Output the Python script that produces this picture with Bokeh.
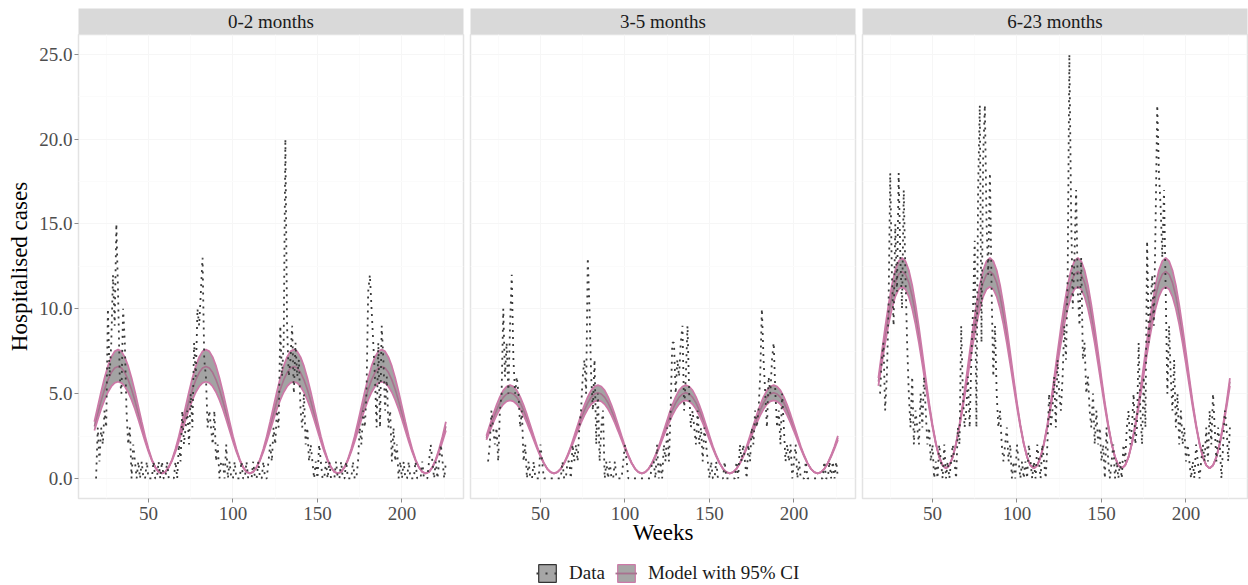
from bokeh.plotting import figure
from bokeh.layouts import row, column
from bokeh.models import Range1d, FixedTicker, PrintfTickFormatter, Legend, LegendItem
from bokeh.core.properties import value
from bokeh.embed import file_html
from bokeh.resources import INLINE

FONT = "Liberation Serif"

panel_titles = ["0-2 months", "3-5 months", "6-23 months"]
x_label = "Weeks"
y_label = "Hospitalised cases"
legend_labels = ["Data", "Model with 95% CI"]
x_ticks = [50, 100, 150, 200]
y_ticks = [0, 5, 10, 15, 20, 25]

# weekly observed hospitalisations, weeks 19..226
data_weeks = list(range(19, 227))
cases_0_2 = [
    0, 3, 1, 3, 2, 4, 3, 10, 6, 8,
    12, 9, 15, 11, 6, 5, 10, 8, 4, 2,
    3, 0, 2, 1, 0, 1, 0, 1, 0, 0,
    1, 0, 0, 0, 1, 0, 0, 1, 0, 1,
    0, 0, 1, 0, 0, 0, 0, 1, 0, 2,
    1, 4, 2, 3, 4, 2, 5, 3, 8, 6,
    10, 9, 11, 13, 7, 6, 3, 4, 3, 2,
    4, 1, 2, 0, 1, 1, 0, 2, 0, 1,
    0, 0, 1, 0, 0, 0, 1, 0, 0, 1,
    0, 0, 0, 1, 0, 0, 1, 0, 0, 1,
    0, 0, 1, 2, 1, 3, 2, 4, 3, 9,
    6, 8, 20, 9, 6, 7, 9, 5, 8, 6,
    7, 4, 3, 5, 2, 3, 1, 2, 1, 0,
    1, 0, 2, 1, 0, 0, 1, 0, 1, 0,
    0, 0, 1, 0, 0, 1, 0, 0, 1, 0,
    0, 0, 1, 0, 0, 1, 3, 2, 4, 3,
    5, 11, 12, 10, 8, 6, 3, 8, 3, 9,
    7, 4, 6, 3, 4, 1, 3, 1, 2, 0,
    1, 0, 1, 0, 0, 1, 0, 0, 0, 1,
    0, 0, 0, 1, 0, 0, 0, 1, 2, 1,
    0, 1, 0, 1, 2, 1, 0, 1,
]
cases_3_5 = [
    1, 2, 4, 3, 2, 3, 1, 4, 5, 10,
    6, 8, 5, 9, 12, 7, 5, 6, 5, 3,
    4, 1, 2, 0, 1, 0, 0, 1, 0, 0,
    0, 2, 1, 0, 0, 0, 0, 0, 0, 0,
    0, 0, 0, 0, 1, 0, 0, 1, 1, 0,
    2, 1, 2, 1, 3, 4, 6, 7, 5, 13,
    10, 6, 4, 7, 2, 5, 1, 3, 4, 0,
    1, 0, 1, 0, 0, 1, 0, 0, 0, 0,
    1, 2, 1, 0, 0, 0, 0, 0, 0, 0,
    0, 0, 0, 0, 0, 0, 0, 1, 1, 0,
    2, 0, 1, 0, 2, 1, 3, 1, 4, 8,
    8, 5, 7, 6, 8, 9, 4, 6, 9, 5,
    3, 4, 3, 2, 4, 2, 3, 1, 3, 2,
    1, 0, 1, 0, 0, 1, 0, 0, 0, 0,
    1, 0, 0, 0, 0, 0, 0, 1, 0, 2,
    1, 2, 1, 0, 2, 1, 3, 2, 4, 3,
    4, 6, 10, 7, 5, 3, 6, 5, 7, 8,
    5, 3, 4, 2, 5, 3, 1, 2, 1, 2,
    0, 1, 2, 0, 1, 0, 0, 0, 1, 0,
    0, 0, 0, 0, 0, 0, 0, 0, 0, 1,
    0, 0, 1, 0, 1, 0, 1, 0,
]
cases_6_23 = [
    5, 7, 8, 4, 6, 10, 18, 12, 9, 15,
    11, 18, 13, 10, 17, 12, 8, 5, 3, 6,
    2, 4, 3, 2, 5, 3, 6, 4, 2, 3,
    1, 2, 0, 1, 0, 2, 1, 0, 2, 0,
    1, 0, 1, 2, 1, 0, 3, 2, 9, 5,
    3, 4, 6, 3, 7, 10, 14, 3, 17, 22,
    8, 19, 22, 15, 12, 18, 11, 6, 9, 5,
    3, 4, 2, 1, 2, 3, 1, 2, 0, 1,
    0, 2, 1, 0, 1, 0, 1, 0, 2, 1,
    0, 1, 0, 2, 1, 0, 2, 1, 0, 2,
    5, 3, 4, 6, 3, 7, 5, 4, 6, 9,
    7, 12, 25, 16, 10, 13, 17, 11, 9, 13,
    7, 8, 5, 6, 4, 3, 5, 2, 4, 2,
    3, 1, 2, 0, 3, 1, 0, 1, 2, 0,
    1, 0, 1, 0, 2, 1, 3, 4, 2, 3,
    5, 2, 3, 8, 4, 2, 6, 3, 14, 8,
    10, 12, 9, 15, 22, 18, 16, 13, 17, 11,
    5, 9, 6, 4, 7, 3, 5, 2, 4, 2,
    3, 1, 2, 1, 0, 1, 0, 2, 1, 0,
    1, 2, 1, 3, 1, 4, 2, 5, 3, 1,
    3, 2, 0, 2, 4, 3, 1, 3,
]

# model fit (mean and 95% CI), read every 2 weeks, weeks 18..226
model_weeks = list(range(18, 227, 2))
model_mean_0_2 = [
    3.07, 3.83, 4.57, 5.24, 5.81, 6.24, 6.51, 6.60,
    6.51, 6.24, 5.81, 5.24, 4.57, 3.83, 3.07, 2.33, 1.66, 1.09, 0.66, 0.39, 0.30,
    0.39, 0.66, 1.09, 1.66, 2.33, 3.07, 3.83, 4.57, 5.24, 5.81, 6.24, 6.51, 6.60,
    6.51, 6.24, 5.81, 5.24, 4.57, 3.83, 3.07, 2.33, 1.66, 1.09, 0.66, 0.39, 0.30,
    0.39, 0.66, 1.09, 1.66, 2.33, 3.07, 3.83, 4.57, 5.24, 5.81, 6.24, 6.51, 6.60,
    6.51, 6.24, 5.81, 5.24, 4.57, 3.83, 3.07, 2.33, 1.66, 1.09, 0.66, 0.39, 0.30,
    0.39, 0.66, 1.09, 1.66, 2.33, 3.07, 3.83, 4.57, 5.24, 5.81, 6.24, 6.51, 6.60,
    6.51, 6.24, 5.81, 5.24, 4.57, 3.83, 3.07, 2.33, 1.66, 1.09, 0.66, 0.39, 0.30,
    0.39, 0.66, 1.09, 1.66, 2.33, 3.07,
]
model_hi_0_2 = [
    3.34, 4.23, 5.11, 5.92, 6.62, 7.15, 7.49, 7.60,
    7.49, 7.15, 6.62, 5.92, 5.11, 4.23, 3.34, 2.49, 1.75, 1.13, 0.67, 0.39, 0.30,
    0.39, 0.67, 1.13, 1.75, 2.49, 3.34, 4.23, 5.11, 5.92, 6.62, 7.15, 7.49, 7.60,
    7.49, 7.15, 6.62, 5.92, 5.11, 4.23, 3.34, 2.49, 1.75, 1.13, 0.67, 0.39, 0.30,
    0.39, 0.67, 1.13, 1.75, 2.49, 3.34, 4.23, 5.11, 5.92, 6.62, 7.15, 7.49, 7.60,
    7.49, 7.15, 6.62, 5.92, 5.11, 4.23, 3.34, 2.49, 1.75, 1.13, 0.67, 0.39, 0.30,
    0.39, 0.67, 1.13, 1.75, 2.49, 3.34, 4.23, 5.11, 5.92, 6.62, 7.15, 7.49, 7.60,
    7.49, 7.15, 6.62, 5.92, 5.11, 4.23, 3.34, 2.49, 1.75, 1.13, 0.67, 0.39, 0.30,
    0.39, 0.67, 1.13, 1.75, 2.49, 3.34,
]
model_lo_0_2 = [
    2.83, 3.47, 4.09, 4.63, 5.08, 5.42, 5.63, 5.70,
    5.63, 5.42, 5.08, 4.63, 4.09, 3.47, 2.83, 2.18, 1.58, 1.06, 0.65, 0.39, 0.30,
    0.39, 0.65, 1.06, 1.58, 2.18, 2.83, 3.47, 4.09, 4.63, 5.08, 5.42, 5.63, 5.70,
    5.63, 5.42, 5.08, 4.63, 4.09, 3.47, 2.83, 2.18, 1.58, 1.06, 0.65, 0.39, 0.30,
    0.39, 0.65, 1.06, 1.58, 2.18, 2.83, 3.47, 4.09, 4.63, 5.08, 5.42, 5.63, 5.70,
    5.63, 5.42, 5.08, 4.63, 4.09, 3.47, 2.83, 2.18, 1.58, 1.06, 0.65, 0.39, 0.30,
    0.39, 0.65, 1.06, 1.58, 2.18, 2.83, 3.47, 4.09, 4.63, 5.08, 5.42, 5.63, 5.70,
    5.63, 5.42, 5.08, 4.63, 4.09, 3.47, 2.83, 2.18, 1.58, 1.06, 0.65, 0.39, 0.30,
    0.39, 0.65, 1.06, 1.58, 2.18, 2.83,
]
model_mean_3_5 = [
    2.39, 2.96, 3.52, 4.02, 4.45, 4.78, 4.98, 5.05,
    4.98, 4.78, 4.45, 4.02, 3.52, 2.96, 2.39, 1.83, 1.33, 0.90, 0.57, 0.37, 0.30,
    0.37, 0.57, 0.90, 1.33, 1.83, 2.39, 2.96, 3.52, 4.02, 4.45, 4.78, 4.98, 5.05,
    4.98, 4.78, 4.45, 4.02, 3.52, 2.96, 2.39, 1.83, 1.33, 0.90, 0.57, 0.37, 0.30,
    0.37, 0.57, 0.90, 1.33, 1.83, 2.39, 2.96, 3.52, 4.02, 4.45, 4.78, 4.98, 5.05,
    4.98, 4.78, 4.45, 4.02, 3.52, 2.96, 2.39, 1.83, 1.33, 0.90, 0.57, 0.37, 0.30,
    0.37, 0.57, 0.90, 1.33, 1.83, 2.39, 2.96, 3.52, 4.02, 4.45, 4.78, 4.98, 5.05,
    4.98, 4.78, 4.45, 4.02, 3.52, 2.96, 2.39, 1.83, 1.33, 0.90, 0.57, 0.37, 0.30,
    0.37, 0.57, 0.90, 1.33, 1.83, 2.39,
]
model_hi_3_5 = [
    2.51, 3.14, 3.76, 4.32, 4.81, 5.19, 5.42, 5.50,
    5.42, 5.19, 4.81, 4.32, 3.76, 3.14, 2.51, 1.90, 1.37, 0.92, 0.57, 0.37, 0.30,
    0.37, 0.57, 0.92, 1.37, 1.90, 2.51, 3.14, 3.76, 4.32, 4.81, 5.19, 5.42, 5.50,
    5.42, 5.19, 4.81, 4.32, 3.76, 3.14, 2.51, 1.90, 1.37, 0.92, 0.57, 0.37, 0.30,
    0.37, 0.57, 0.92, 1.37, 1.90, 2.51, 3.14, 3.76, 4.32, 4.81, 5.19, 5.42, 5.50,
    5.42, 5.19, 4.81, 4.32, 3.76, 3.14, 2.51, 1.90, 1.37, 0.92, 0.57, 0.37, 0.30,
    0.37, 0.57, 0.92, 1.37, 1.90, 2.51, 3.14, 3.76, 4.32, 4.81, 5.19, 5.42, 5.50,
    5.42, 5.19, 4.81, 4.32, 3.76, 3.14, 2.51, 1.90, 1.37, 0.92, 0.57, 0.37, 0.30,
    0.37, 0.57, 0.92, 1.37, 1.90, 2.51,
]
model_lo_3_5 = [
    2.27, 2.78, 3.28, 3.72, 4.09, 4.37, 4.54, 4.60,
    4.54, 4.37, 4.09, 3.72, 3.28, 2.78, 2.27, 1.76, 1.29, 0.88, 0.57, 0.37, 0.30,
    0.37, 0.57, 0.88, 1.29, 1.76, 2.27, 2.78, 3.28, 3.72, 4.09, 4.37, 4.54, 4.60,
    4.54, 4.37, 4.09, 3.72, 3.28, 2.78, 2.27, 1.76, 1.29, 0.88, 0.57, 0.37, 0.30,
    0.37, 0.57, 0.88, 1.29, 1.76, 2.27, 2.78, 3.28, 3.72, 4.09, 4.37, 4.54, 4.60,
    4.54, 4.37, 4.09, 3.72, 3.28, 2.78, 2.27, 1.76, 1.29, 0.88, 0.57, 0.37, 0.30,
    0.37, 0.57, 0.88, 1.29, 1.76, 2.27, 2.78, 3.28, 3.72, 4.09, 4.37, 4.54, 4.60,
    4.54, 4.37, 4.09, 3.72, 3.28, 2.78, 2.27, 1.76, 1.29, 0.88, 0.57, 0.37, 0.30,
    0.37, 0.57, 0.88, 1.29, 1.76, 2.27,
]
model_mean_6_23 = [
    5.70, 7.10, 8.46, 9.69, 10.74, 11.54, 12.03, 12.20,
    12.03, 11.54, 10.74, 9.69, 8.46, 7.10, 5.70, 4.34, 3.11, 2.06, 1.26, 0.77, 0.60,
    0.77, 1.26, 2.06, 3.11, 4.34, 5.70, 7.10, 8.46, 9.69, 10.74, 11.54, 12.03, 12.20,
    12.03, 11.54, 10.74, 9.69, 8.46, 7.10, 5.70, 4.34, 3.11, 2.06, 1.26, 0.77, 0.60,
    0.77, 1.26, 2.06, 3.11, 4.34, 5.70, 7.10, 8.46, 9.69, 10.74, 11.54, 12.03, 12.20,
    12.03, 11.54, 10.74, 9.69, 8.46, 7.10, 5.70, 4.34, 3.11, 2.06, 1.26, 0.77, 0.60,
    0.77, 1.26, 2.06, 3.11, 4.34, 5.70, 7.10, 8.46, 9.69, 10.74, 11.54, 12.03, 12.20,
    12.03, 11.54, 10.74, 9.69, 8.46, 7.10, 5.70, 4.34, 3.11, 2.06, 1.26, 0.77, 0.60,
    0.77, 1.26, 2.06, 3.11, 4.34, 5.70,
]
model_hi_6_23 = [
    5.91, 7.42, 8.89, 10.23, 11.39, 12.27, 12.81, 13.00,
    12.81, 12.27, 11.39, 10.23, 8.89, 7.42, 5.91, 4.47, 3.18, 2.09, 1.27, 0.77, 0.60,
    0.77, 1.27, 2.09, 3.18, 4.47, 5.91, 7.42, 8.89, 10.23, 11.39, 12.27, 12.81, 13.00,
    12.81, 12.27, 11.39, 10.23, 8.89, 7.42, 5.91, 4.47, 3.18, 2.09, 1.27, 0.77, 0.60,
    0.77, 1.27, 2.09, 3.18, 4.47, 5.91, 7.42, 8.89, 10.23, 11.39, 12.27, 12.81, 13.00,
    12.81, 12.27, 11.39, 10.23, 8.89, 7.42, 5.91, 4.47, 3.18, 2.09, 1.27, 0.77, 0.60,
    0.77, 1.27, 2.09, 3.18, 4.47, 5.91, 7.42, 8.89, 10.23, 11.39, 12.27, 12.81, 13.00,
    12.81, 12.27, 11.39, 10.23, 8.89, 7.42, 5.91, 4.47, 3.18, 2.09, 1.27, 0.77, 0.60,
    0.77, 1.27, 2.09, 3.18, 4.47, 5.91,
]
model_lo_6_23 = [
    5.46, 6.74, 7.98, 9.08, 10.01, 10.72, 11.15, 11.30,
    11.15, 10.72, 10.01, 9.08, 7.98, 6.74, 5.46, 4.19, 3.03, 2.03, 1.25, 0.77, 0.60,
    0.77, 1.25, 2.03, 3.03, 4.19, 5.46, 6.74, 7.98, 9.08, 10.01, 10.72, 11.15, 11.30,
    11.15, 10.72, 10.01, 9.08, 7.98, 6.74, 5.46, 4.19, 3.03, 2.03, 1.25, 0.77, 0.60,
    0.77, 1.25, 2.03, 3.03, 4.19, 5.46, 6.74, 7.98, 9.08, 10.01, 10.72, 11.15, 11.30,
    11.15, 10.72, 10.01, 9.08, 7.98, 6.74, 5.46, 4.19, 3.03, 2.03, 1.25, 0.77, 0.60,
    0.77, 1.25, 2.03, 3.03, 4.19, 5.46, 6.74, 7.98, 9.08, 10.01, 10.72, 11.15, 11.30,
    11.15, 10.72, 10.01, 9.08, 7.98, 6.74, 5.46, 4.19, 3.03, 2.03, 1.25, 0.77, 0.60,
    0.77, 1.25, 2.03, 3.03, 4.19, 5.46,
]

series = [
    (cases_0_2, model_mean_0_2, model_lo_0_2, model_hi_0_2),
    (cases_3_5, model_mean_3_5, model_lo_3_5, model_hi_3_5),
    (cases_6_23, model_mean_6_23, model_lo_6_23, model_hi_6_23),
]
for c, m, lo, hi in series:
    assert len(c) == len(data_weeks)
    assert len(m) == len(lo) == len(hi) == len(model_weeks)

RIBBON = "#A3A3A3"
PINK = "#CC79A7"
MEAN = "#A9718F"
DOTS = "#3A3A3A"
TICK_TEXT = "#4D4D4D"

# (figure width, min_border_left, min_border_right)
geom = [(467, 78, 4), (392, 3, 4), (389, 3, 1)]
PANEL_H = 520
STRIP_H = 34
BOTTOM = 56

cols = []
for i, (title, (cases, mean, lo, hi), (w, bl, br)) in enumerate(zip(panel_titles, series, geom)):
    # facet strip
    s = figure(width=w, height=STRIP_H, x_range=Range1d(0, 1), y_range=Range1d(0, 1),
               output_backend="svg", toolbar_location=None,
               x_axis_location=None, y_axis_location=None,
               min_border_left=bl, min_border_right=br, min_border_top=8, min_border_bottom=0)
    s.background_fill_color = "#D9D9D9"
    s.border_fill_color = "white"
    s.outline_line_color = None
    s.grid.visible = False
    s.text(x=[0.5], y=[0.5], text=[title], text_align="center", text_baseline="middle",
           text_font=value(FONT), text_font_size="19px", text_color="#1A1A1A")

    p = figure(width=w, height=PANEL_H,
               x_range=Range1d(8.6, 236.4), y_range=Range1d(-1.18, 26.16),
               output_backend="svg", toolbar_location=None,
               y_axis_location="left" if i == 0 else None,
               min_border_left=bl, min_border_right=br, min_border_top=0,
               min_border_bottom=BOTTOM)
    p.background_fill_color = "white"
    p.border_fill_color = "white"
    p.outline_line_color = "#E3E3E3"
    p.outline_line_width = 1.5

    p.xgrid.ticker = FixedTicker(ticks=x_ticks, minor_ticks=[25, 75, 125, 175, 225])
    p.ygrid.ticker = FixedTicker(ticks=y_ticks, minor_ticks=[2.5, 7.5, 12.5, 17.5, 22.5])
    for g in (p.xgrid, p.ygrid):
        g.grid_line_color = "#F6F6F6"
        g.grid_line_width = 1
        g.minor_grid_line_color = "#FBFBFB"

    xa = p.xaxis[0]
    xa.ticker = FixedTicker(ticks=x_ticks)
    xa.axis_line_color = None
    xa.major_tick_line_color = "#8C8C8C"
    xa.minor_tick_line_color = None
    xa.major_tick_out = 4
    xa.major_tick_in = 0
    xa.major_label_standoff = 4
    xa.major_label_text_font = FONT
    xa.major_label_text_font_size = "19px"
    xa.major_label_text_color = TICK_TEXT
    if i == 1:
        xa.axis_label = x_label
        xa.axis_label_text_font = FONT
        xa.axis_label_text_font_size = "23px"
        xa.axis_label_text_font_style = "normal"
        xa.axis_label_text_color = "black"
        xa.axis_label_standoff = -3

    if i == 0:
        ya = p.yaxis[0]
        ya.ticker = FixedTicker(ticks=y_ticks)
        ya.formatter = PrintfTickFormatter(format="%.1f")
        ya.axis_line_color = None
        ya.major_tick_line_color = "#8C8C8C"
        ya.minor_tick_line_color = None
        ya.major_tick_out = 4
        ya.major_tick_in = 0
        ya.major_label_standoff = 2
        ya.major_label_text_font = FONT
        ya.major_label_text_font_size = "19px"
        ya.major_label_text_color = TICK_TEXT
        ya.axis_label = y_label
        ya.axis_label_text_font = FONT
        ya.axis_label_text_font_size = "23px"
        ya.axis_label_text_font_style = "normal"
        ya.axis_label_text_color = "black"
        ya.axis_label_standoff = 4

    p.varea(x=model_weeks, y1=lo, y2=hi, fill_color=RIBBON, fill_alpha=1.0)
    p.line(model_weeks, mean, line_color=MEAN, line_width=1.6)
    p.line(model_weeks, hi, line_color=PINK, line_width=1.8)
    p.line(model_weeks, lo, line_color=PINK, line_width=1.8)
    p.line(data_weeks, cases, line_color=DOTS, line_width=1.8, line_dash="2 5", line_cap="butt")

    cols.append(column(s, p))

# legend strip (glyphs drawn outside the visible range so only the keys show)
leg = figure(width=1248, height=31, x_range=Range1d(0, 1), y_range=Range1d(0, 1),
             output_backend="svg", toolbar_location=None,
             x_axis_location=None, y_axis_location=None,
             min_border_left=0, min_border_right=0, min_border_top=0, min_border_bottom=0)
leg.outline_line_color = None
leg.grid.visible = False
leg.background_fill_color = "white"
leg.border_fill_color = "white"
d_box = leg.quad(left=[10], right=[11], top=[11], bottom=[10], fill_color="#A6A6A6",
                 line_color="#333333", line_width=1.2)
d_line = leg.line(x=[10, 11], y=[10, 10], line_color=DOTS, line_width=1.8, line_dash="2 7")
m_box = leg.quad(left=[10], right=[11], top=[11], bottom=[10], fill_color="#A6A6A6",
                 line_color=PINK, line_width=1.2)
m_line = leg.line(x=[10, 11], y=[10, 10], line_color=MEAN, line_width=1.8)
legend = Legend(items=[LegendItem(label=legend_labels[0], renderers=[d_box, d_line]),
                       LegendItem(label=legend_labels[1], renderers=[m_box, m_line])],
                orientation="horizontal", location=(536, 1),
                border_line_color=None, background_fill_alpha=0,
                glyph_width=22, glyph_height=22, label_standoff=11, spacing=10,
                padding=0, margin=0,
                label_text_font=FONT, label_text_font_size="19px", label_text_color="#1A1A1A")
leg.add_layout(legend, "center")

layout = column(row(*cols), leg)

open("out.html", "w").write(file_html(layout, INLINE))
